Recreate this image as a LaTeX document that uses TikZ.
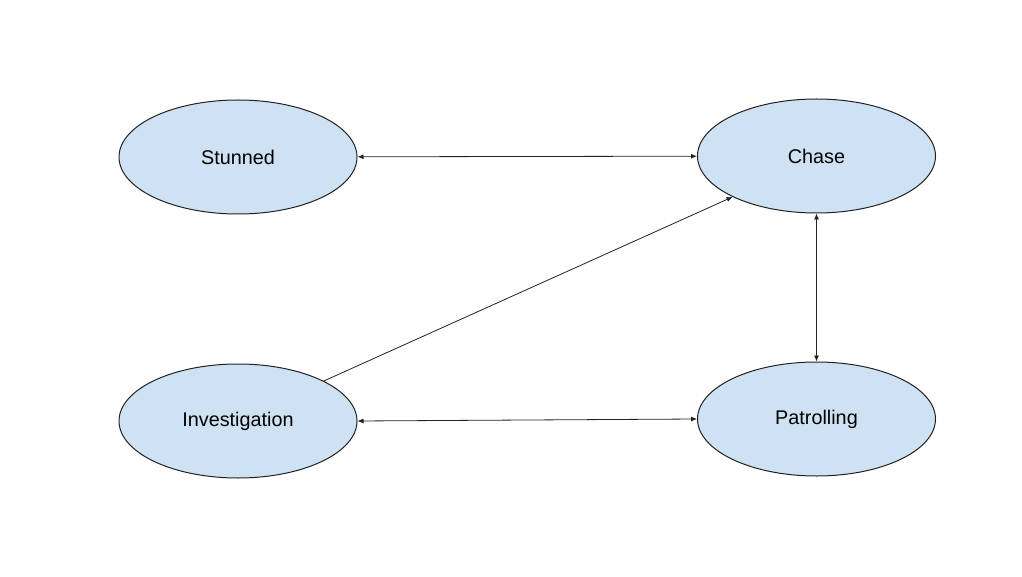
\documentclass[tikz,border=0pt]{standalone}
\usepackage{fontspec}
\setmainfont{Liberation Sans}
\usetikzlibrary{shapes.geometric,arrows.meta}
\definecolor{fillblue}{HTML}{CFE2F3}
\definecolor{edge}{HTML}{222222}
\begin{document}
\begin{tikzpicture}[x=1pt,y=-1pt,
  state/.style={ellipse,draw=edge,line width=1pt,fill=fillblue,minimum width=238pt,minimum height=114pt,inner sep=0pt,font=\fontsize{19.8}{24}\selectfont},
  link/.style={draw=edge,line width=0.8pt,-{Latex[length=6pt,width=5pt]}},
  blink/.style={draw=edge,line width=0.8pt,{Latex[length=6pt,width=5pt]}-{Latex[length=6pt,width=5pt]}}]
\useasboundingbox[fill=white] (0,0) rectangle (1022,577);
\node[state] (stunned) at (238,157) {Stunned};
\node[state] (chase) at (816.5,156) {Chase};
\node[state] (inv) at (238,421) {Investigation};
\node[state] (pat) at (816.5,419) {Patrolling};
\draw[blink] (stunned) -- (chase);
\draw[blink] (chase.south) -- (pat.north);
\draw[blink] (inv.east) -- (pat.west);
\draw[link] (inv.25) -- (chase.-154);
\end{tikzpicture}
\end{document}
